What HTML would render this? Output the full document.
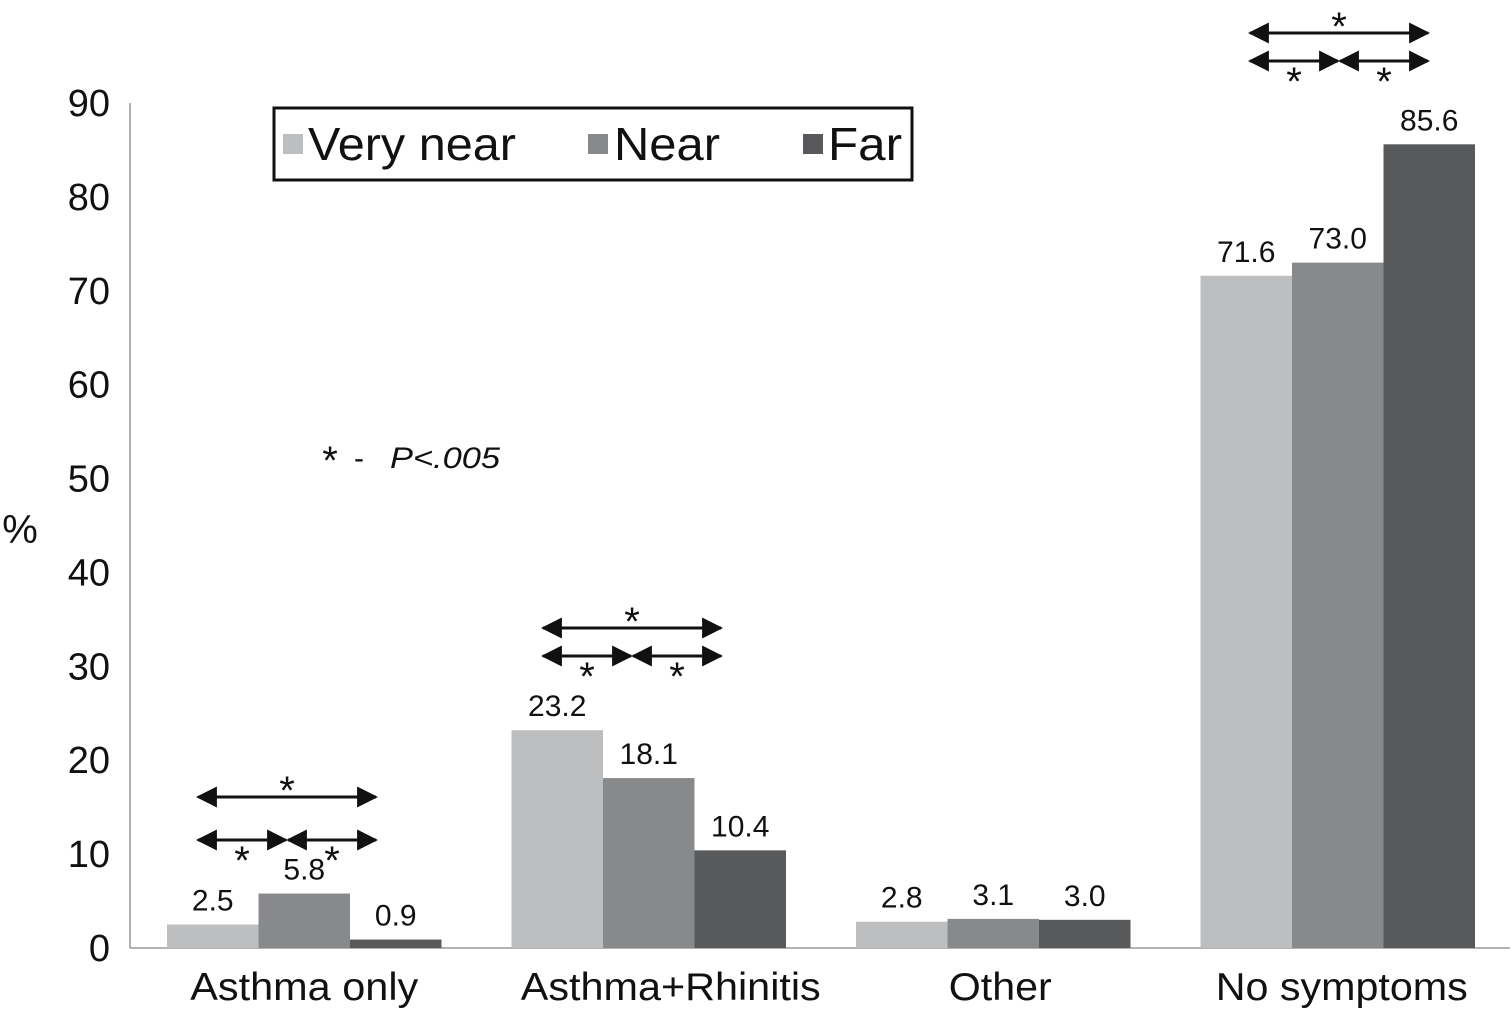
<!DOCTYPE html>
<html><head><meta charset="utf-8"><style>
body{margin:0;background:#fff;}
svg{display:block;font-family:"Liberation Sans",sans-serif;}
</style></head><body>
<svg id="c" width="1512" height="1009" viewBox="0 0 1512 1009">
<defs>
<marker id="ah" viewBox="0 0 10 10" refX="9" refY="5" markerWidth="7" markerHeight="7" orient="auto-start-reverse" markerUnits="strokeWidth"><path d="M0,0 L10,5 L0,10 z" fill="#111"/></marker>
</defs>
<g id="axes"></g>
<g id="bars"></g>
<g id="ann"></g>
<rect x="274" y="108" width="638" height="72" fill="#fff" stroke="#111" stroke-width="3"/>
<rect x="283" y="134" width="20" height="20" fill="#bdbec0"/>
<text x="308" y="160" font-size="46" textLength="208" lengthAdjust="spacingAndGlyphs" fill="#111">Very near</text>
<rect x="588" y="134" width="20" height="20" fill="#88898b"/>
<text x="614" y="160" font-size="46" textLength="106" lengthAdjust="spacingAndGlyphs" fill="#111">Near</text>
<rect x="803" y="134" width="20" height="20" fill="#58595b"/>
<text x="828" y="160" font-size="46" textLength="74" lengthAdjust="spacingAndGlyphs" fill="#111">Far</text>
<text x="20" y="543" font-size="40" text-anchor="middle" fill="#111">%</text>
<text x="330" y="474" font-size="40" text-anchor="middle" fill="#111">*</text>
<text x="354" y="468" font-size="30" fill="#111">-</text>
<text x="390" y="468" font-size="30" font-style="italic" textLength="110" lengthAdjust="spacingAndGlyphs" fill="#111">P&lt;.005</text>
</svg>
<script>
const categories=["Asthma only","Asthma+Rhinitis","Other","No symptoms"];
const seriesNames=["Very near","Near","Far"];
const veryNear=[2.5,23.2,2.8,71.6];
const near=[5.8,18.1,3.1,73.0];
const far=[0.9,10.4,3.0,85.6];
const yTicks=[0,10,20,30,40,50,60,70,80,90];
const catWidths=[228,300,103,252];
const colors=["#bdbec0","#88898b","#58595b"];
const NS="http://www.w3.org/2000/svg";
const y0=948,y90=103,axX=130;
function yS(v){return y0-(v/90)*(y0-y90);}
function gX(i){return 167+i*344.5;}
const bw=91.5;
function mk(t,a,p){const e=document.createElementNS(NS,t);for(const k in a)e.setAttribute(k,a[k]);p.appendChild(e);return e;}
const ax=document.getElementById('axes');
let l=mk('line',{x1:axX,y1:y90,x2:axX,y2:y0,stroke:'#999','stroke-width':1.5},ax);


l=mk('line',{x1:axX,y1:y0,x2:1510,y2:y0,stroke:'#999','stroke-width':1.5},ax);


yTicks.forEach(t=>{const e=mk('text',{x:110,y:yS(t)+13,'font-size':38,'text-anchor':'end',fill:'#111'},ax);e.textContent=t;

});
const bg=document.getElementById('bars');
const series=[veryNear,near,far];
const labelNudge=[0,22,7,4];
categories.forEach((c,i)=>{
 const e=mk('text',{x:gX(i)+bw*1.5+labelNudge[i],y:1000,'font-size':39,'text-anchor':'middle',textLength:catWidths[i],lengthAdjust:'spacingAndGlyphs',fill:'#111'},ax);e.textContent=c;
 
 
 series.forEach((s,j)=>{
  const x=gX(i)+j*bw,y=yS(s[i]);
  const r=mk('rect',{x:x,y:y,width:bw,height:y0-y,fill:colors[j]},bg);
  
  
  const t=mk('text',{x:x+bw/2,y:y-14,'font-size':30,'text-anchor':'middle',fill:'#111'},bg);
  t.textContent=s[i].toFixed(1);
  
  
 });
});
const an=document.getElementById('ann');
function arrow(x1,x2,y){const e=mk('line',{x1:x1,y1:y,x2:x2,y2:y,stroke:'#111','stroke-width':3,'marker-start':'url(#ah)','marker-end':'url(#ah)'},an);

}
function star(x,cy){const e=mk('text',{x:x,y:cy+19,'font-size':40,'text-anchor':'middle',fill:'#111'},an);e.textContent='*';

}
[[198,797,840],[543,628,656],[1250,33,61]].forEach(([a,yl,ys])=>{
 const b=a+178,m=a+89;
 arrow(a,b,yl);arrow(a,m-1,ys);arrow(m+1,b,ys);
 star(m,yl-12);star(a+44,ys+15);star(a+134,ys+15);
});
</script>
</body></html>
